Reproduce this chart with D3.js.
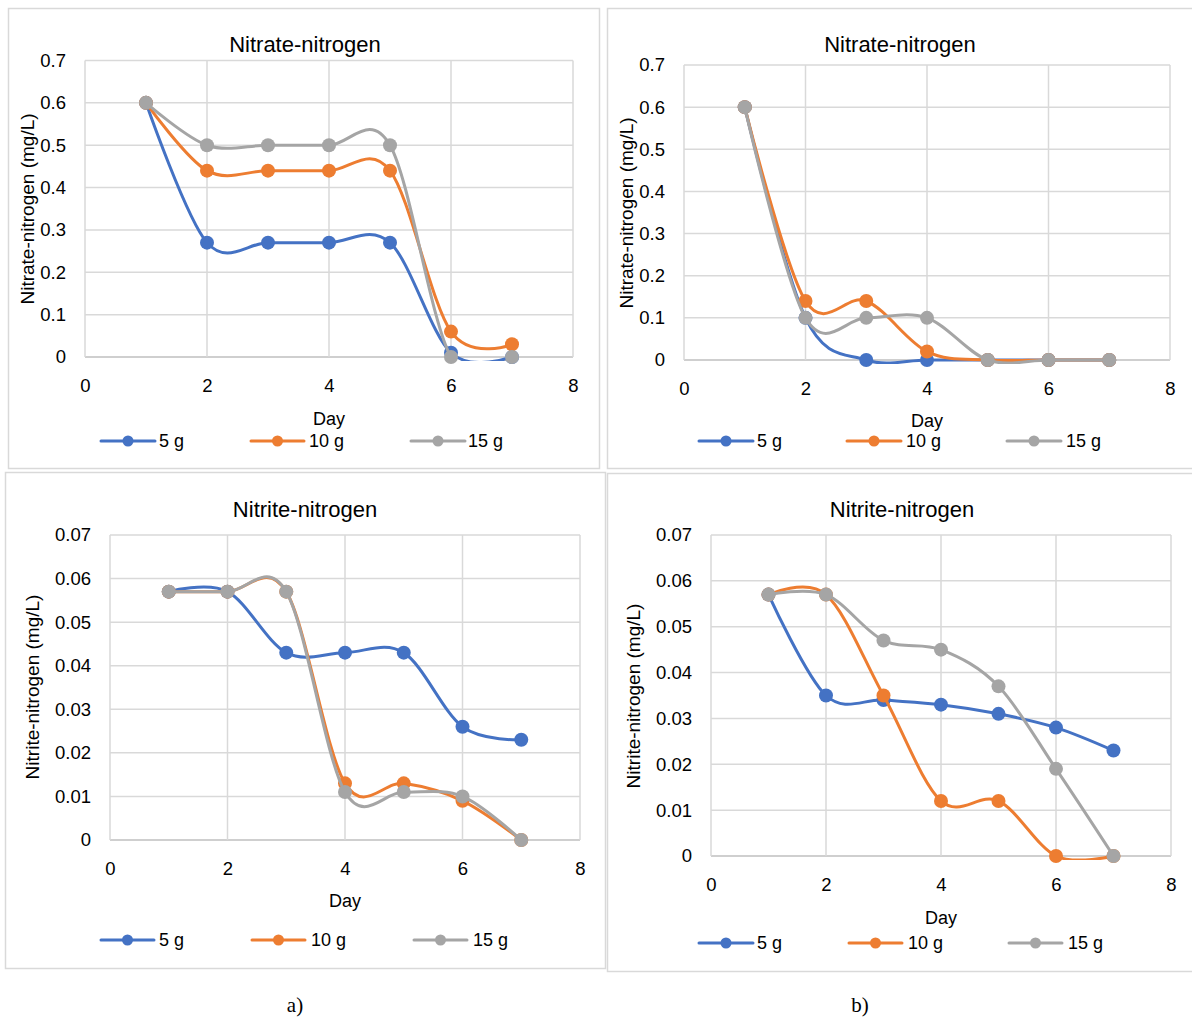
<!DOCTYPE html>
<html>
<head>
<meta charset="utf-8">
<script src="https://cdn.jsdelivr.net/npm/d3@7"></script>
<style>
  html, body { margin: 0; padding: 0; background: #fff; }
  svg { display: block; }
  text { font-family: "Liberation Sans", Arial, sans-serif; fill: #000; }
</style>
</head>
<body>
<svg id="chart" width="1192" height="1019"></svg>
<script>
// ---------- data ----------
const days = [1, 2, 3, 4, 5, 6, 7];
const seriesNames = ["5 g", "10 g", "15 g"];
const seriesColors = ["#4472C4", "#ED7D31", "#A5A5A5"];
const xTicks = [0, 2, 4, 6, 8];
const nitrateTicks = [0, 0.1, 0.2, 0.3, 0.4, 0.5, 0.6, 0.7];
const nitriteTicks = [0, 0.01, 0.02, 0.03, 0.04, 0.05, 0.06, 0.07];

const nitrateA5  = [0.6, 0.27, 0.27, 0.27, 0.27, 0.01, 0];
const nitrateA10 = [0.6, 0.44, 0.44, 0.44, 0.44, 0.06, 0.03];
const nitrateA15 = [0.6, 0.5, 0.5, 0.5, 0.5, 0, 0];

const nitrateB5  = [0.6, 0.1, 0, 0, 0, 0, 0];
const nitrateB10 = [0.6, 0.14, 0.14, 0.02, 0, 0, 0];
const nitrateB15 = [0.6, 0.1, 0.1, 0.1, 0, 0, 0];

const nitriteA5  = [0.057, 0.057, 0.043, 0.043, 0.043, 0.026, 0.023];
const nitriteA10 = [0.057, 0.057, 0.057, 0.013, 0.013, 0.009, 0];
const nitriteA15 = [0.057, 0.057, 0.057, 0.011, 0.011, 0.010, 0];

const nitriteB5  = [0.057, 0.035, 0.034, 0.033, 0.031, 0.028, 0.023];
const nitriteB10 = [0.057, 0.057, 0.035, 0.012, 0.012, 0, 0];
const nitriteB15 = [0.057, 0.057, 0.047, 0.045, 0.037, 0.019, 0];

const titleNitrate = "Nitrate-nitrogen";
const titleNitrite = "Nitrite-nitrogen";
const yTitleNitrate = "Nitrate-nitrogen (mg/L)";
const yTitleNitrite = "Nitrite-nitrogen (mg/L)";
const xTitle = "Day";

// ---------- layout ----------
const svg = d3.select("#chart");
const defs = svg.append("defs");

const panels = [
  { title: titleNitrate, yTitle: yTitleNitrate, yTicks: nitrateTicks, yMax: 0.7, fmt: d => d === 0 ? "0" : d3.format(".1f")(d),
    series: [nitrateA5, nitrateA10, nitrateA15],
    box: [8.5, 8.5, 591, 460], px: [85, 573], py: [357, 60.5], titleXY: [305, 44], yTitleXY: [27, 209],
    dayXY: [329, 419], legendY: 441, legend: [[101, 155, 159], [251, 304, 309], [411, 465, 468]] },
  { title: titleNitrate, yTitle: yTitleNitrate, yTicks: nitrateTicks, yMax: 0.7, fmt: d => d === 0 ? "0" : d3.format(".1f")(d),
    series: [nitrateB5, nitrateB10, nitrateB15],
    box: [607.5, 8.5, 590, 460], px: [684, 1170], py: [360, 65], titleXY: [900, 44], yTitleXY: [626, 213],
    dayXY: [927, 421], legendY: 441, legend: [[699, 753, 757], [847, 901, 906], [1007, 1061, 1066]] },
  { title: titleNitrite, yTitle: yTitleNitrite, yTicks: nitriteTicks, yMax: 0.07, fmt: d => d === 0 ? "0" : d3.format(".2f")(d),
    series: [nitriteA5, nitriteA10, nitriteA15],
    box: [5.5, 472.5, 600, 496], px: [110, 580], py: [840, 535], titleXY: [305, 509], yTitleXY: [32, 687],
    dayXY: [345, 901], legendY: 940, legend: [[101, 154, 159], [252, 305, 311], [414, 467, 473]] },
  { title: titleNitrite, yTitle: yTitleNitrite, yTicks: nitriteTicks, yMax: 0.07, fmt: d => d === 0 ? "0" : d3.format(".2f")(d),
    series: [nitriteB5, nitriteB10, nitriteB15],
    box: [607.5, 473.5, 590, 498], px: [711, 1171], py: [856, 535], titleXY: [902, 509], yTitleXY: [633, 696],
    dayXY: [941, 918], legendY: 943, legend: [[699, 753, 757], [849, 902, 908], [1009, 1062, 1068]] }
];

const captions = [["a)", 295, 1005], ["b)", 860, 1005]];

panels.forEach((p, pi) => {
  const g = svg.append("g");
  // panel border
  g.append("rect").attr("x", p.box[0]).attr("y", p.box[1]).attr("width", p.box[2]).attr("height", p.box[3])
    .attr("fill", "#fff").attr("stroke", "#d9d9d9").attr("stroke-width", 1.5);

  const x = d3.scaleLinear().domain([0, 8]).range(p.px);
  const y = d3.scaleLinear().domain([0, p.yMax]).range(p.py);

  // clip for series lines only (plot area with a small margin)
  defs.append("clipPath").attr("id", "clip" + pi).append("rect")
    .attr("x", p.px[0] - 10).attr("y", p.py[1] - 10)
    .attr("width", p.px[1] - p.px[0] + 20).attr("height", p.py[0] - p.py[1] + 14);

  // gridlines
  g.append("g").selectAll("line").data(p.yTicks).join("line")
    .attr("x1", p.px[0]).attr("x2", p.px[1]).attr("y1", d => y(d)).attr("y2", d => y(d))
    .attr("stroke", d => d === 0 ? "#bfbfbf" : "#d9d9d9").attr("stroke-width", 1.5);
  g.append("g").selectAll("line").data(xTicks).join("line")
    .attr("x1", d => x(d)).attr("x2", d => x(d)).attr("y1", p.py[0]).attr("y2", p.py[1])
    .attr("stroke", "#d9d9d9").attr("stroke-width", 1.5);

  // axes
  const ya = g.append("g").attr("transform", `translate(${p.px[0]},0)`)
    .call(d3.axisLeft(y).tickValues(p.yTicks).tickFormat(p.fmt).tickSize(0).tickPadding(19));
  ya.select(".domain").remove();
  ya.selectAll("text").style("font-size", "18.5px").attr("fill", "#000");

  const xa = g.append("g").attr("transform", `translate(0,${p.py[0]})`)
    .call(d3.axisBottom(x).tickValues(xTicks).tickFormat(d3.format("d")).tickSize(0));
  xa.select(".domain").remove();
  xa.selectAll("text").style("font-size", "18.5px").attr("fill", "#000").attr("y", 29).attr("dy", "0.35em");

  // titles
  g.append("text").attr("x", p.titleXY[0]).attr("y", p.titleXY[1]).attr("dy", "0.35em")
    .attr("text-anchor", "middle").style("font-size", "22px").text(p.title);
  g.append("text").attr("transform", `translate(${p.yTitleXY[0]},${p.yTitleXY[1]}) rotate(-90)`)
    .attr("dy", "0.35em").attr("text-anchor", "middle").style("font-size", "19px").text(p.yTitle);
  g.append("text").attr("x", p.dayXY[0]).attr("y", p.dayXY[1]).attr("dy", "0.35em")
    .attr("text-anchor", "middle").style("font-size", "18px").text(xTitle);

  // series
  const line = d3.line().x((d, i) => x(days[i])).y(d => y(d)).curve(d3.curveCatmullRom.alpha(0));
  p.series.forEach((vals, si) => {
    g.append("path").attr("d", line(vals)).attr("fill", "none").attr("clip-path", `url(#clip${pi})`)
      .attr("stroke", seriesColors[si]).attr("stroke-width", 3).attr("stroke-linejoin", "round").attr("stroke-linecap", "round");
    g.append("g").selectAll("circle").data(vals).join("circle")
      .attr("cx", (d, i) => x(days[i])).attr("cy", d => y(d)).attr("r", 7)
      .attr("fill", seriesColors[si]);
  });

  // legend
  p.legend.forEach((L, si) => {
    g.append("line").attr("x1", L[0]).attr("x2", L[1]).attr("y1", p.legendY).attr("y2", p.legendY)
      .attr("stroke", seriesColors[si]).attr("stroke-width", 3).attr("stroke-linecap", "round");
    g.append("circle").attr("cx", (L[0] + L[1]) / 2).attr("cy", p.legendY).attr("r", 5.5).attr("fill", seriesColors[si]);
    g.append("text").attr("x", L[2]).attr("y", p.legendY).attr("dy", "0.35em")
      .style("font-size", "18px").text(seriesNames[si]);
  });
});

captions.forEach(c => {
  svg.append("text").attr("x", c[1]).attr("y", c[2]).attr("dy", "0.35em").attr("text-anchor", "middle")
    .style("font-family", "'Liberation Serif', 'Times New Roman', serif").style("font-size", "21px").text(c[0]);
});
</script>
</body>
</html>
